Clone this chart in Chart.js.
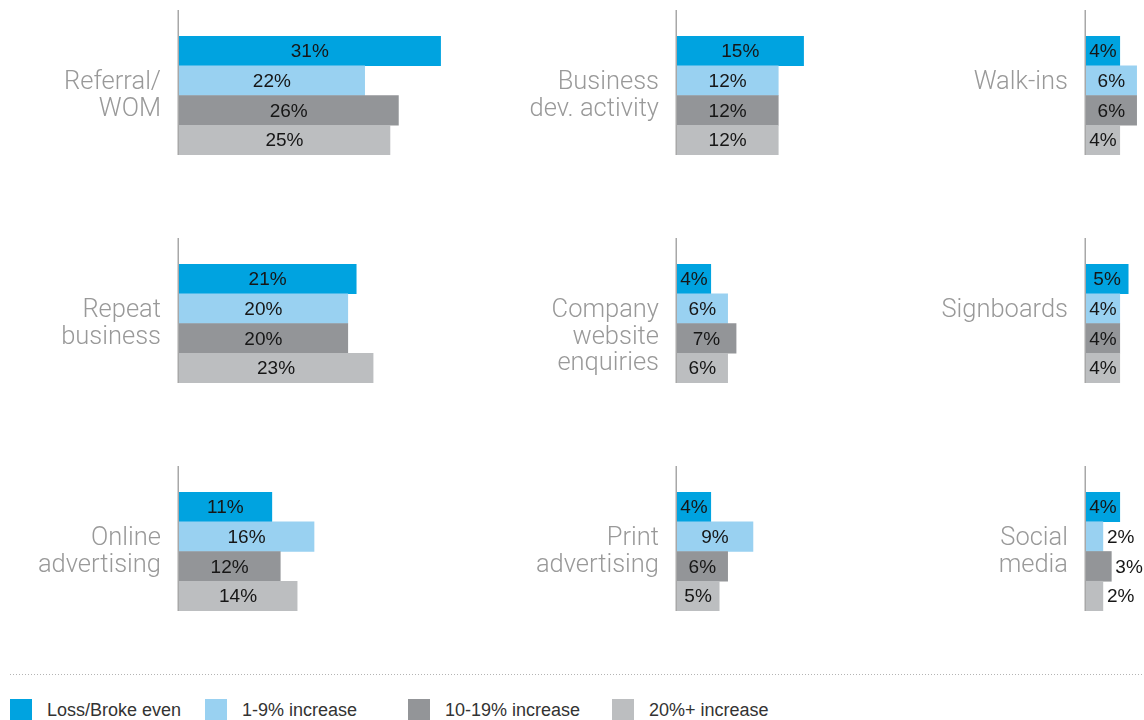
<!DOCTYPE html>
<html>
<head>
<meta charset="utf-8">
<title>New business sources by change in turnover</title>
<script src="https://cdn.jsdelivr.net/npm/chart.js@4/dist/chart.umd.min.js"></script>
<style>
  html, body {
    margin: 0;
    padding: 0;
    background: #fff;
  }
  body {
    position: relative;
    width: 1144px;
    height: 720px;
    overflow: hidden;
    font-family: "Liberation Sans", Arial, sans-serif;
  }
  canvas.panel {
    position: absolute;
  }
  .divider {
    position: absolute;
    left: 10px;
    right: 0;
    top: 674px;
    height: 1px;
    background-image: repeating-linear-gradient(to right, #b4b4b4 0 1px, transparent 1px 3px);
  }
  .legend-item {
    position: absolute;
    top: 699px;
    height: 21px;
    font-size: 18px;
    line-height: 23px;
    color: #333;
    white-space: nowrap;
  }
  .legend-item span.swatch {
    display: inline-block;
    width: 22px;
    height: 21px;
    vertical-align: top;
    margin-right: 15px;
  }
</style>
</head>
<body>

<div class="divider"></div>
<div id="legend"></div>

<script>
// Sources of new business, split by change in turnover
let categories = [
  ['Referral/', 'WOM'],
  ['Business', 'dev. activity'],
  ['Walk-ins'],
  ['Repeat', 'business'],
  ['Company', 'website', 'enquiries'],
  ['Signboards'],
  ['Online', 'advertising'],
  ['Print', 'advertising'],
  ['Social', 'media']
];
let seriesNames = ['Loss/Broke even', '1-9% increase', '10-19% increase', '20%+ increase'];
let lossBrokeEven = [31, 15, 4, 21, 4, 5, 11, 4, 4];
let increase1to9 = [22, 12, 6, 20, 6, 4, 16, 9, 2];
let increase10to19 = [26, 12, 6, 20, 7, 4, 12, 6, 3];
let increase20plus = [25, 12, 4, 23, 6, 4, 14, 5, 2];
let seriesColors = ['#00a3e0', '#99d1f1', '#939598', '#bcbec0'];

// panel grid
let axisX = [179, 677, 1086];
let rowTop = [10, 238, 466];
let labelArea = 179;
let panelWidth = 460;
let panelHeight = 145;
let xMax = 33.3;

// vertical axis line, starts above the first bar
let axisLinePlugin = {
  id: 'axisLine',
  beforeDatasetsDraw(chart) {
    let ctx = chart.ctx;
    let area = chart.chartArea;
    ctx.save();
    ctx.strokeStyle = '#a8a8a8';
    ctx.lineWidth = 1.5;
    ctx.beginPath();
    ctx.moveTo(area.left - 0.75, 0);
    ctx.lineTo(area.left - 0.75, area.bottom);
    ctx.stroke();
    ctx.restore();
  }
};

// percentage inside the bar, or just after it when the bar is too short
let valueLabelPlugin = {
  id: 'valueLabels',
  afterDatasetsDraw(chart) {
    let ctx = chart.ctx;
    let meta = chart.getDatasetMeta(0);
    let values = chart.data.datasets[0].data;
    ctx.save();
    ctx.font = '19px "Liberation Sans", Arial, sans-serif';
    ctx.fillStyle = '#161616';
    ctx.textBaseline = 'middle';
    meta.data.forEach(function(bar, i) {
      let text = values[i] + '%';
      let textWidth = ctx.measureText(text).width;
      let barWidth = bar.x - bar.base;
      if (textWidth + 4 <= barWidth) {
        ctx.textAlign = 'center';
        ctx.fillText(text, (bar.x + bar.base) / 2, bar.y + 1);
      } else {
        ctx.textAlign = 'left';
        ctx.fillText(text, bar.x + 4, bar.y + 1);
      }
    });
    ctx.restore();
  }
};

// category name to the left of the axis, first line level with the second bar
let categoryLabelPlugin = {
  id: 'categoryLabel',
  afterDraw(chart, args, opts) {
    let ctx = chart.ctx;
    let yScale = chart.scales.y;
    let x = chart.chartArea.left - 18;
    let y = yScale.getPixelForValue(1) + 2;
    ctx.save();
    ctx.font = '300 25.5px Roboto, "Liberation Sans", sans-serif';
    ctx.fillStyle = '#999';
    ctx.textAlign = 'right';
    ctx.textBaseline = 'middle';
    opts.lines.forEach(function(line, i) {
      ctx.fillText(line, x, y + i * 26.5);
    });
    ctx.restore();
  }
};

function panelRender(index) {
  let col = index % 3;
  let row = Math.floor(index / 3);

  let canvas = document.createElement('canvas');
  canvas.className = 'panel';
  canvas.width = panelWidth;
  canvas.height = panelHeight;
  canvas.style.left = (axisX[col] - labelArea) + 'px';
  canvas.style.top = rowTop[row] + 'px';
  document.body.appendChild(canvas);

  let values = [lossBrokeEven[index], increase1to9[index], increase10to19[index], increase20plus[index]];

  // eslint-disable-next-line no-undef
  new Chart(canvas.getContext('2d'), {
    type: 'bar',
    data: {
      labels: seriesNames,
      datasets: [{
        data: values,
        backgroundColor: seriesColors,
        borderWidth: 0,
        barPercentage: 1,
        categoryPercentage: 1
      }]
    },
    options: {
      indexAxis: 'y',
      responsive: false,
      animation: false,
      devicePixelRatio: 1,
      layout: {
        padding: { left: labelArea, top: 26, right: 0, bottom: 0 }
      },
      scales: {
        x: { display: false, min: 0, max: xMax },
        y: { display: false }
      },
      plugins: {
        legend: { display: false },
        tooltip: { enabled: false },
        categoryLabel: { lines: categories[index] }
      }
    },
    plugins: [axisLinePlugin, valueLabelPlugin, categoryLabelPlugin]
  });
}

for (let i = 0; i < categories.length; i++) {
  panelRender(i);
}

// legend along the bottom
let legendX = [10, 205, 408, 612];
let legendEl = document.getElementById('legend');
for (let i = 0; i < seriesNames.length; i++) {
  let item = document.createElement('div');
  item.className = 'legend-item';
  item.style.left = legendX[i] + 'px';
  let swatch = document.createElement('span');
  swatch.className = 'swatch';
  swatch.style.background = seriesColors[i];
  item.appendChild(swatch);
  item.appendChild(document.createTextNode(seriesNames[i]));
  legendEl.appendChild(item);
}
</script>
</body>
</html>
